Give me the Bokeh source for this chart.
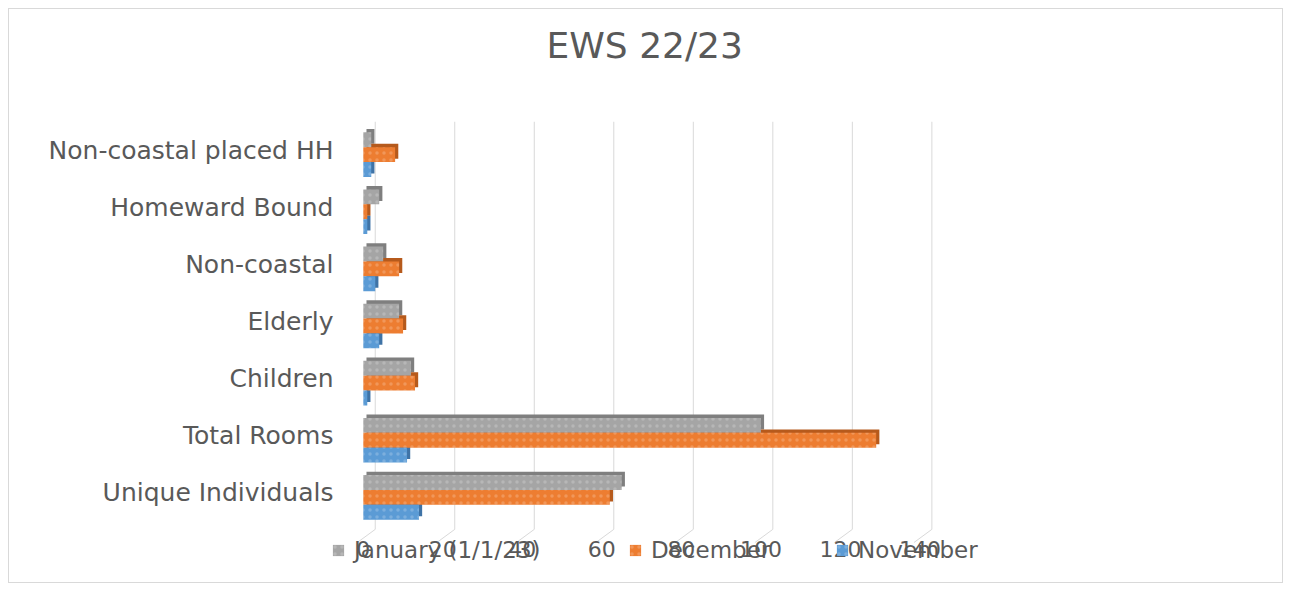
from bokeh.plotting import figure
from bokeh.models import ColumnDataSource, FactorRange, Legend, LegendItem, FixedTicker, Title
from bokeh.transform import dodge
from bokeh.embed import file_html
from bokeh.resources import INLINE

# ---- data (bottom to top) ----
categories = ["Unique Individuals", "Total Rooms", "Children", "Elderly",
              "Non-coastal", "Homeward Bound", "Non-coastal placed HH"]
january = [65, 100, 12, 9, 5, 4, 2]
december = [62, 129, 13, 10, 9, 1, 8]
november = [14, 11, 1, 4, 3, 1, 2]
series_names = ["January (1/1/23)", "December", "November"]
x_ticks = [0, 20, 40, 60, 80, 100, 120, 140]
title_text = "EWS 22/23"

# ---- style ----
FONT = "DejaVu Sans"
TXT = "#595959"
GRID = "#d9d9d9"
colors = ["#A5A5A5", "#ED7D31", "#5B9BD5"]
dark = ["#7F7F7F", "#B65A1C", "#3F73A6"]
offsets = [0.18, -0.08, -0.34]
bar_h = 0.26
dx = 0.8       # 3D depth (x data units)
dy = 0.06      # 3D depth (category units)
back = 3.0     # back-wall offset of gridlines (x data units)

src_data = dict(cat=categories, jan=january, dec=december, nov=november)
for key, vals in (("jan", january), ("dec", december), ("nov", november)):
    src_data[key + "_d"] = [v + dx for v in vals]
src = ColumnDataSource(src_data)

# an empty bottom row holds the axis labels and the legend
y_factors = [" "] + categories
p = figure(width=1275, height=575, y_range=FactorRange(*y_factors), x_range=(-8, 158),
           output_backend="svg", toolbar_location=None, title=None,
           min_border_left=322, min_border_right=293, min_border_top=112, min_border_bottom=6)
p.styles = {"margin-left": "8px", "margin-top": "8px", "border": "1px solid #d9d9d9"}

# spacer between frame and title, then the title itself
p.add_layout(Title(text=" ", text_font_size="2px", standoff=52), "above")
p.add_layout(Title(text=title_text, align="left", offset=215, standoff=0,
                   text_font=FONT, text_font_size="36px", text_font_style="normal",
                   text_color=TXT), "above")

p.xgrid.visible = False
p.ygrid.visible = False
p.outline_line_color = None

# back-wall gridlines and floor lines (3D look)
gx = [t + back for t in x_ticks]
p.segment(x0=gx, y0=[0.86] * len(gx), x1=gx, y1=[len(y_factors)] * len(gx),
          line_color=GRID, line_width=1)
p.segment(x0=[t - 1.5 for t in x_ticks], y0=[0.63] * len(gx), x1=gx, y1=[0.86] * len(gx),
          line_color=GRID, line_width=1)

fields = ["jan", "dec", "nov"]
# depth (side/top faces)
for f, c, d, off in zip(fields, colors, dark, offsets):
    p.hbar(y=dodge("cat", off + dy, range=p.y_range), left=dx, right=f + "_d", height=bar_h,
           source=src, fill_color=d, line_color=None)
# front faces
renderers = []
for f, c, off in zip(fields, colors, offsets):
    r = p.hbar(y=dodge("cat", off, range=p.y_range), left=0, right=f, height=bar_h,
               source=src, fill_color=c, line_color=None,
               hatch_pattern="dot", hatch_color="white", hatch_alpha=0.2, hatch_scale=7)
    renderers.append(r)

p.yaxis.axis_line_color = None
p.yaxis.major_tick_line_color = None
p.yaxis.minor_tick_line_color = None
p.yaxis.major_label_standoff = -8
p.yaxis.major_label_text_font = FONT
p.yaxis.major_label_text_font_size = "25px"
p.yaxis.major_label_text_color = TXT

p.xaxis.ticker = FixedTicker(ticks=x_ticks)
p.xaxis.fixed_location = 1
p.xaxis.axis_line_color = None
p.xaxis.major_tick_line_color = None
p.xaxis.minor_tick_line_color = None
p.xaxis.major_label_standoff = 14
p.xaxis.major_label_text_font = FONT
p.xaxis.major_label_text_font_size = "22px"
p.xaxis.major_label_text_color = TXT

for name, r, vx in zip(series_names, renderers, [0, 297, 504]):
    leg = Legend(items=[LegendItem(label=name, renderers=[r])], location=(vx, 15),
                 orientation="horizontal", padding=0, margin=0, border_line_color=None,
                 background_fill_alpha=0, glyph_width=14, glyph_height=14, label_standoff=9,
                 label_text_font=FONT, label_text_font_size="23px", label_text_color=TXT)
    p.add_layout(leg, "center")

open("out.html", "w").write(file_html(p, INLINE))
